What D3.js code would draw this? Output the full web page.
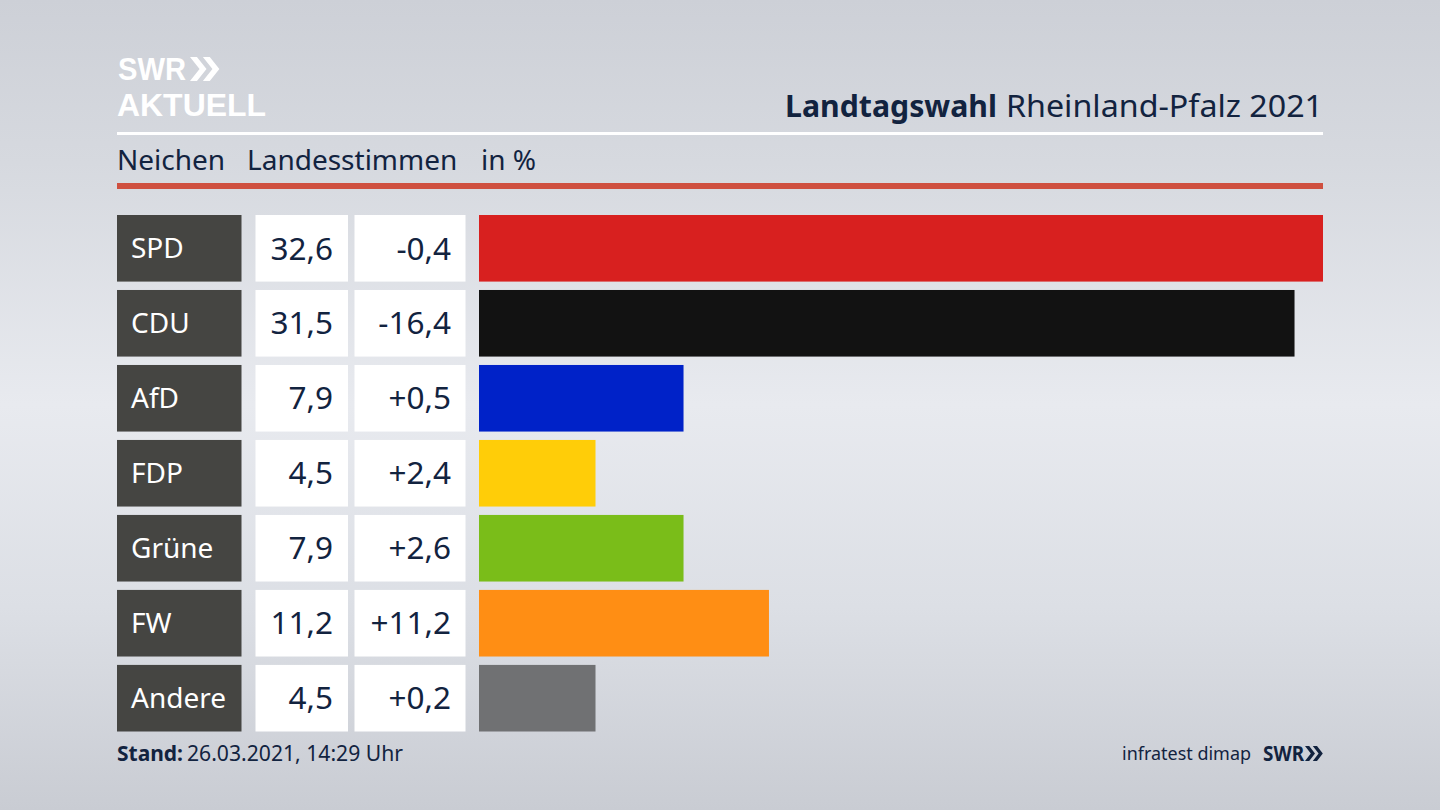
<!DOCTYPE html>
<html lang="de">
<head>
<meta charset="utf-8">
<title>Landtagswahl Rheinland-Pfalz 2021</title>
<script src="https://cdn.jsdelivr.net/npm/d3@7"></script>
<style>
html, body { margin: 0; padding: 0; background: #d5d8de; overflow: hidden; }
text { font-family: "Noto Sans", "Open Sans", sans-serif; }
</style>
</head>
<body>
<svg id="vis" width="1440" height="810"></svg>
<script>
// data
var parties = ["SPD", "CDU", "AfD", "FDP", "Grüne", "FW", "Andere"];
var shares = [32.6, 31.5, 7.9, 4.5, 7.9, 11.2, 4.5];
var changes = [-0.4, -16.4, 0.5, 2.4, 2.6, 11.2, 0.2];
var partyColors = ["#d8201f", "#121212", "#0022c8", "#ffcd08", "#7abd19", "#ff8e14", "#707173"];

const NAVY = "#12233f";
const LOGO_FONT = '"Liberation Sans", sans-serif';

var svg = d3.select("#vis");
var defs = svg.append("defs");

// background: soft light band through the middle, darker towards the edges
var bgLinear = defs.append("linearGradient").attr("id", "bgLinear")
    .attr("x1", 0).attr("y1", 0).attr("x2", 0).attr("y2", 1);
bgLinear.selectAll("stop")
    .data([[0, "#cdd0d7"], [0.2, "#d6d9df"], [0.5, "#e8eaef"], [0.75, "#dcdfe5"], [1, "#c9ccd3"]])
    .enter().append("stop")
    .attr("offset", function(d){ return d[0]; })
    .attr("stop-color", function(d){ return d[1]; });
svg.append("rect").attr("width", 1440).attr("height", 810).attr("fill", "url(#bgLinear)");

var x = d3.scaleLinear().domain([0, 32.6]).range([479, 1323]);
var y = d3.scaleBand().domain(parties).range([215, 731.5]).paddingInner(0.112);

function fmt(v){
    return v.toFixed(1).replace(".", ",");
}
function fmtChange(v){
    return (v > 0 ? "+" : "-") + fmt(Math.abs(v));
}

// logo chevrons, drawn from a single outline
function chevrons(g, px, py, h, w, fill){
    [0, 0.78].forEach(function(off){
        var ox = px + off * w;
        g.append("path")
            .attr("d", d3.line()([[ox, py], [ox + w * 0.42, py], [ox + w, py + h / 2], [ox + w * 0.42, py + h], [ox, py + h], [ox + w * 0.58, py + h / 2]]) + "Z")
            .attr("fill", fill);
    });
}

// header
var header = svg.append("g");
header.append("text").attr("x", 118).attr("y", 80)
    .attr("font-size", 32).attr("font-weight", 700).attr("fill", "#fff")
    .style("font-family", LOGO_FONT)
    .attr("textLength", 68).attr("lengthAdjust", "spacingAndGlyphs")
    .text("SWR");
chevrons(header, 190, 57, 24, 16.5, "#fff");
header.append("text").attr("x", 117).attr("y", 116)
    .attr("font-size", 32).attr("font-weight", 700).attr("fill", "#fff")
    .style("font-family", LOGO_FONT)
    .attr("textLength", 149).attr("lengthAdjust", "spacingAndGlyphs")
    .text("AKTUELL");

header.append("text").attr("x", 785).attr("y", 117)
    .attr("font-size", 31).attr("font-weight", 700).attr("fill", NAVY)
    .attr("textLength", 212).attr("lengthAdjust", "spacingAndGlyphs")
    .text("Landtagswahl");
header.append("text").attr("x", 1006).attr("y", 117)
    .attr("font-size", 31).attr("fill", NAVY)
    .attr("textLength", 317).attr("lengthAdjust", "spacingAndGlyphs")
    .text("Rheinland-Pfalz 2021");

header.append("rect").attr("x", 117).attr("y", 132).attr("width", 1206).attr("height", 3).attr("fill", "#fff");

[["Neichen", 117], ["Landesstimmen", 247], ["in %", 481]].forEach(function(d){
    header.append("text").attr("x", d[1]).attr("y", 170)
        .attr("font-size", 28).attr("fill", NAVY).text(d[0]);
});
header.append("rect").attr("x", 117).attr("y", 183).attr("width", 1206).attr("height", 6).attr("fill", "#cf5040");

// rows
var rows = svg.selectAll(".row")
    .data(parties)
    .enter().append("g")
    .attr("class", "row")
    .attr("transform", function(d){ return "translate(0," + y(d) + ")"; });

rows.append("rect").attr("x", 117).attr("width", 124.5).attr("height", y.bandwidth()).attr("fill", "#454542");
rows.append("rect").attr("x", 255.5).attr("width", 92.5).attr("height", y.bandwidth()).attr("fill", "#fff");
rows.append("rect").attr("x", 354.5).attr("width", 111).attr("height", y.bandwidth()).attr("fill", "#fff");

rows.append("rect")
    .attr("x", x(0))
    .attr("width", function(d, i){ return x(shares[i]) - x(0); })
    .attr("height", y.bandwidth())
    .attr("fill", function(d, i){ return partyColors[i]; });

rows.append("text").attr("x", 131).attr("y", 43)
    .attr("font-size", 28).attr("fill", "#fff")
    .text(function(d){ return d; });
rows.append("text").attr("x", 333).attr("y", 44.5)
    .attr("text-anchor", "end").attr("font-size", 31.5).attr("fill", NAVY)
    .text(function(d, i){ return fmt(shares[i]); });
rows.append("text").attr("x", 451).attr("y", 44.5)
    .attr("text-anchor", "end").attr("font-size", 31.5).attr("fill", NAVY)
    .text(function(d, i){ return fmtChange(changes[i]); });

// footer
svg.append("text").attr("x", 117).attr("y", 761)
    .attr("font-size", 22).attr("font-weight", 700).attr("fill", NAVY)
    .attr("textLength", 66).attr("lengthAdjust", "spacingAndGlyphs")
    .text("Stand:");
svg.append("text").attr("x", 187).attr("y", 761)
    .attr("font-size", 22).attr("fill", NAVY)
    .attr("textLength", 216).attr("lengthAdjust", "spacingAndGlyphs")
    .text("26.03.2021, 14:29 Uhr");

svg.append("text").attr("x", 1122).attr("y", 760)
    .attr("font-size", 18.5).attr("fill", NAVY)
    .attr("textLength", 129).attr("lengthAdjust", "spacingAndGlyphs")
    .text("infratest dimap");
svg.append("text").attr("x", 1263).attr("y", 761)
    .attr("font-size", 21).attr("font-weight", 700).attr("fill", NAVY)
    .attr("textLength", 41).attr("lengthAdjust", "spacingAndGlyphs")
    .text("SWR");
chevrons(svg.append("g"), 1305, 746, 15, 10, NAVY);
</script>
</body>
</html>
